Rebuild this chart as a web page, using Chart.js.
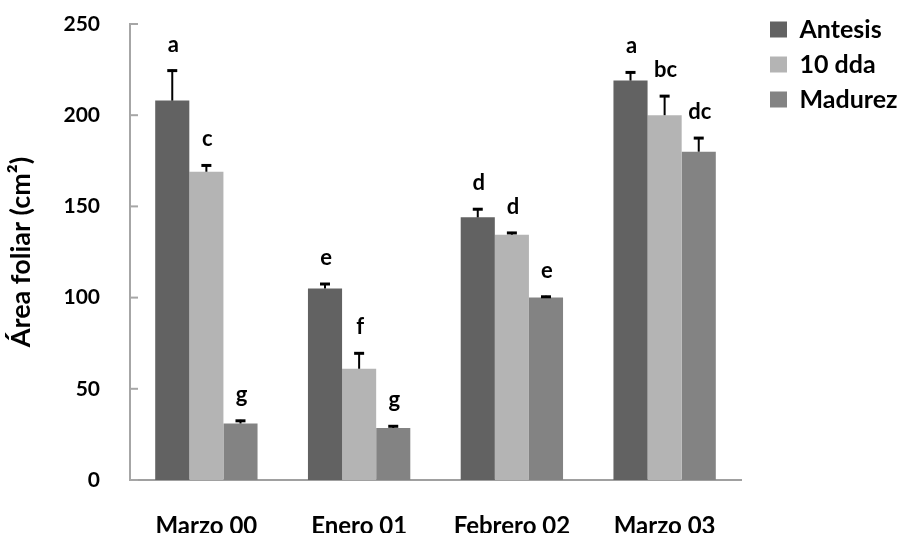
<!DOCTYPE html>
<html>
<head>
<meta charset="utf-8">
<script src="https://cdn.jsdelivr.net/npm/chart.js@4"></script>
<style>
  html, body { margin: 0; padding: 0; background: #fff; }
  #wrap { width: 905px; height: 533px; }
</style>
</head>
<body>
<div id="wrap"><canvas id="AreaFoliar"></canvas></div>
<script>
// categories (x axis)
var categorias = ['Marzo 00', 'Enero 01', 'Febrero 02', 'Marzo 03'];

// mean values per stage
var antesis = [208, 105, 144, 219];
var dda10 = [169, 61, 134.5, 200];
var madurez = [31, 28.5, 100, 180];

// error (upper) per stage
var antesisErr = [17, 3, 5, 5];
var dda10Err = [4, 9, 1.5, 11];
var madurezErr = [2, 1.5, 1, 8];

// significance letters
var antesisLet = ['a', 'e', 'd', 'a'];
var dda10Let = ['c', 'f', 'd', 'bc'];
var madurezLet = ['g', 'g', 'e', 'dc'];

// y axis ticks
var yMin = 0, yMax = 250, yStep = 50;

var errores = [antesisErr, dda10Err, madurezErr];
var letras = [antesisLet, dda10Let, madurezLet];

var FONT = 'Lato';

// error bars + letters drawn on top of the bars
var errorBarPlugin = {
    id: 'errorBars',
    afterDatasetsDraw: function(chart) {
        var ctx = chart.ctx;
        var yScale = chart.scales.y;
        ctx.save();
        chart.data.datasets.forEach(function(ds, i) {
            var meta = chart.getDatasetMeta(i);
            meta.data.forEach(function(bar, j) {
                var top = yScale.getPixelForValue(ds.data[j] + errores[i][j]);
                ctx.strokeStyle = '#000';
                ctx.lineWidth = 2;
                ctx.beginPath();
                ctx.moveTo(bar.x, bar.y);
                ctx.lineTo(bar.x, top);
                ctx.stroke();
                ctx.lineWidth = 3;
                ctx.beginPath();
                ctx.moveTo(bar.x - 5, top + 1);
                ctx.lineTo(bar.x + 5, top + 1);
                ctx.stroke();

                ctx.fillStyle = '#000';
                ctx.font = 'bold 22px ' + FONT;
                ctx.textAlign = 'center';
                ctx.textBaseline = 'alphabetic';
                ctx.fillText(letras[i][j], bar.x + 1, top - 18);
            });
        });
        ctx.restore();
    }
};

// inward tick marks on the y axis
var innerTicksPlugin = {
    id: 'innerTicks',
    afterDraw: function(chart) {
        var ctx = chart.ctx;
        var yScale = chart.scales.y;
        var x0 = chart.chartArea.left;
        ctx.save();
        ctx.strokeStyle = '#a6a6a6';
        ctx.lineWidth = 2;
        yScale.ticks.forEach(function(t) {
            var y = yScale.getPixelForValue(t.value);
            ctx.beginPath();
            ctx.moveTo(x0, y);
            ctx.lineTo(x0 + 8, y);
            ctx.stroke();
        });
        ctx.restore();
    }
};

// move the legend box to the top right corner
var legendPosPlugin = {
    id: 'legendPos',
    afterLayout: function(chart) {
        var L = chart.legend;
        var dx = 760 - L.left;
        var dy = 7 - L.top;
        L.left += dx;
        L.top += dy;
        L.bottom += dy;
        L.right = 905;
        L.width = L.right - L.left;
    }
};

var ctx = document.getElementById('AreaFoliar');

var myChart = new Chart(ctx, {
    type: 'bar',
    data: {
        labels: categorias,
        datasets: [{
            label: 'Antesis',
            data: antesis,
            backgroundColor: '#626262'
        }, {
            label: '10 dda',
            data: dda10,
            backgroundColor: '#b4b4b4'
        }, {
            label: 'Madurez',
            data: madurez,
            backgroundColor: '#838383'
        }]
    },
    options: {
        responsive: true,
        maintainAspectRatio: false,
        animation: false,
        layout: {
            padding: { top: 24, right: 64, bottom: 0, left: 0 }
        },
        datasets: {
            bar: {
                categoryPercentage: 0.67,
                barPercentage: 1.0
            }
        },
        plugins: {
            legend: {
                position: 'right',
                align: 'start',
                maxWidth: 100,
                labels: {
                    boxWidth: 17,
                    boxHeight: 16,
                    padding: 10,
                    color: '#000',
                    font: { family: FONT, size: 25, weight: 'bold' }
                }
            },
            tooltip: { enabled: false }
        },
        scales: {
            x: {
                grid: { display: false },
                border: { display: true, color: '#a0a0a0', width: 2 },
                ticks: {
                    color: '#000',
                    padding: 24,
                    font: { family: FONT, size: 24, weight: 'bold' }
                },
                afterFit: function(scale) { scale.height = 53; }
            },
            y: {
                min: yMin,
                max: yMax,
                grid: { display: false, drawTicks: false },
                border: { display: true, color: '#a6a6a6', width: 2 },
                ticks: {
                    stepSize: yStep,
                    color: '#000',
                    padding: 30,
                    font: { family: FONT, size: 21, weight: 'bold' }
                },
                title: {
                    display: true,
                    text: 'Área foliar (cm²)',
                    color: '#000',
                    padding: { top: 5, bottom: 0 },
                    font: { family: FONT, size: 27, weight: 'bold' }
                },
                afterFit: function(scale) {
                    scale.width = 130;
                    scale.paddingTop = 12;
                    scale.paddingBottom = 12;
                }
            }
        }
    },
    plugins: [errorBarPlugin, innerTicksPlugin, legendPosPlugin]
});
</script>
</body>
</html>
